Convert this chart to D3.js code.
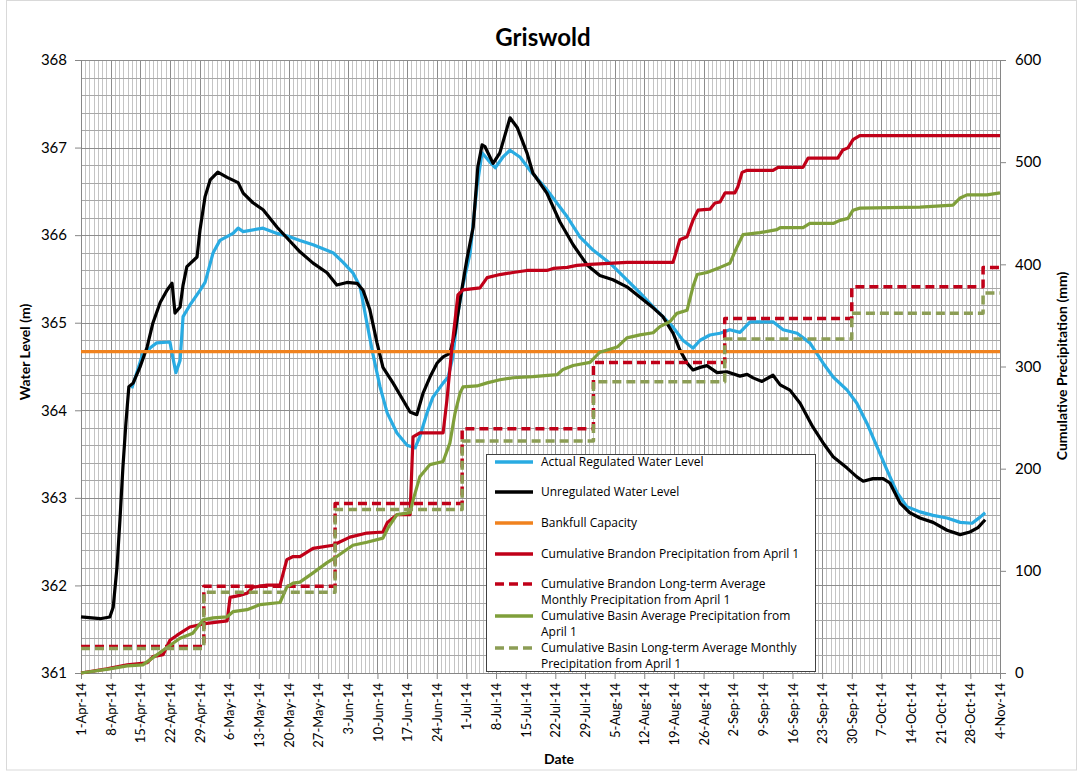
<!DOCTYPE html>
<html>
<head>
<meta charset="utf-8">
<title>Griswold</title>
<script src="https://cdnjs.cloudflare.com/ajax/libs/d3/7.8.5/d3.min.js"></script>
<style>
  body { margin: 0; background: #fff; }
  svg { font-family: Lato, "Open Sans", sans-serif; }
  .axis path, .axis line { stroke: #868686; }
  .axis text { fill: #000; font-size: 15px; font-family: Lato, "Open Sans", sans-serif; }
  .xaxis text { font-size: 13px; }
  .series { fill: none; stroke-linejoin: round; }
  .legend text { font-family: "Open Sans", Lato, sans-serif; font-size: 12px; }
</style>
</head>
<body>
<svg id="chart" width="1083" height="773"></svg>
<script>
// all series: [days since 1-Apr-14, value]
const regulated = [[12,364.25],[14.6,364.65],[16.3,364.71],[17.9,364.77],[21,364.78],[21.5,364.65],[22.4,364.43],[23.4,364.57],[24.1,365.07],[25.7,365.2],[28.1,365.37],[29.3,365.46],[31.2,365.8],[32.8,365.94],[35.9,366.02],[37.1,366.08],[38.3,366.04],[43,366.08],[46.3,366.02],[49.4,365.98],[51.7,365.94],[54.8,365.89],[59.5,365.8],[61.9,365.69],[64.2,365.57],[65.9,365.41],[67.5,365.0],[68.9,364.65],[70.6,364.27],[72.3,363.97],[74.6,363.74],[77,363.6],[78.9,363.57],[80,363.7],[81.7,363.97],[83.1,364.15],[85.5,364.31],[86.7,364.38],[87.8,364.61],[89,365.11],[90.2,365.43],[91.9,365.8],[93.5,366.55],[94.7,366.94],[96.1,366.86],[97.8,366.77],[99.6,366.89],[101.3,366.97],[103.7,366.89],[106,366.74],[110,366.52],[114.8,366.21],[117.8,365.98],[120.9,365.83],[124.9,365.68],[128.9,365.49],[132,365.34],[135.1,365.18],[137.4,365.07],[139.8,364.95],[142.1,364.8],[144.5,364.71],[146.2,364.8],[148.5,364.86],[150.9,364.88],[153.2,364.92],[155.6,364.89],[158,365.01],[163.4,365.01],[165.8,364.92],[169.1,364.88],[172.1,364.77],[175.2,364.54],[177.6,364.38],[180.9,364.23],[183.2,364.08],[185.6,363.85],[188,363.58],[190.3,363.32],[192.7,363.06],[195,362.9],[198.1,362.84],[201.2,362.8],[204.5,362.77],[207.6,362.72],[210.4,362.71],[212.3,362.78],[213.5,362.83]];

const unregulated = [[0,361.64],[4.5,361.62],[6.8,361.64],[7.6,361.75],[8.5,362.21],[9.2,362.75],[9.9,363.35],[10.6,363.85],[11.3,364.27],[12.3,364.31],[13.9,364.49],[15.6,364.72],[17,365.0],[18.7,365.23],[20.3,365.37],[21.5,365.45],[22.2,365.11],[23.4,365.18],[24.1,365.43],[25,365.64],[27.4,365.75],[28.1,366.06],[29.3,366.44],[30.5,366.63],[32.3,366.72],[34.5,366.66],[37.1,366.6],[38.3,366.48],[40.6,366.37],[43,366.29],[46.3,366.09],[48.6,365.97],[51.7,365.81],[54.8,365.68],[58.1,365.57],[60.4,365.43],[62.8,365.46],[65.2,365.45],[66.6,365.37],[68.2,365.15],[69.9,364.77],[71.3,364.49],[73.7,364.31],[76,364.12],[77.7,363.98],[79.3,363.95],[80.8,364.2],[82.4,364.38],[84.1,364.54],[85.5,364.61],[87.1,364.65],[88.3,364.88],[89.5,365.26],[91.1,365.72],[92.6,366.09],[93.7,366.78],[94.7,367.03],[95.4,367.01],[97.3,366.82],[98.9,366.94],[101.3,367.34],[103,367.23],[105.3,366.94],[106.7,366.71],[110,366.48],[113.1,366.15],[116.2,365.89],[119.5,365.66],[122.5,365.54],[125.6,365.49],[128.9,365.41],[132,365.29],[135.1,365.17],[137.4,365.07],[139.8,364.88],[141.4,364.69],[143.1,364.54],[144.5,364.46],[146.2,364.49],[147.8,364.51],[150.2,364.43],[152.5,364.44],[155.6,364.39],[157.3,364.41],[158.7,364.37],[160.8,364.33],[163.4,364.4],[165.1,364.29],[167.4,364.23],[169.8,364.08],[172.8,363.81],[175.2,363.63],[177.6,363.47],[180.9,363.34],[183.2,363.24],[184.7,363.19],[187,363.22],[189.4,363.22],[191,363.17],[193.4,362.94],[195.7,362.83],[198.1,362.77],[201.2,362.72],[204.5,362.63],[207.6,362.58],[209.9,362.61],[211.8,362.66],[213.5,362.75]];

const bankfull = [[0,364.67],[217,364.67]];

const brandonPrecip = [[0,0],[6.1,4],[10.9,8],[15.6,10],[17,16],[19.4,18],[21,32],[22.7,37],[25.7,45],[28.8,48],[34.5,51],[35.2,74],[37.5,76],[39.2,78],[40.6,84],[43.9,86],[47,86],[48.6,111],[50.1,114],[51.7,114],[54.8,122],[59.5,125],[63.5,133],[67.5,137],[71.3,138],[72.3,147],[74.6,155],[77.7,155],[78.4,231],[80,235],[85.5,235],[86.4,267],[87.6,319],[89,370],[90.2,375],[94.2,377],[95.9,387],[98.9,390],[102,392],[105.3,394],[110,394],[111.5,396],[114.8,397],[117.1,399],[120.2,400],[128.9,402],[139.8,402],[141.4,424],[143.1,427],[144.5,443],[145.7,453],[148.5,454],[149.7,460],[150.9,461],[152.1,470],[154.4,470],[155.1,476],[156.1,490],[157.3,492],[163.4,492],[164.6,495],[170.5,495],[171.7,504],[178.7,504],[179.9,512],[181.1,514],[182.3,522],[183.9,526],[217,526]];

const basinPrecip = [[0,0],[6.8,4],[10.9,7],[14.6,8],[17,15],[20.3,25],[23.4,34],[26.4,39],[28.8,52],[31.2,54],[34.5,55],[35.9,60],[39.2,62],[42.3,67],[47,69],[48.6,84],[50.1,88],[51.7,89],[54.8,98],[58.1,108],[60.4,114],[64.2,125],[67.5,128],[71.3,132],[72.5,142],[74.6,155],[77.7,157],[78.4,169],[80,192],[82.4,204],[85.5,207],[87.1,225],[88.3,254],[89.5,274],[90.2,280],[93.5,281],[95.9,284],[98.9,287],[102,289],[106.7,290],[112.4,292],[113.8,297],[116.2,301],[120.2,304],[121.8,311],[122.5,314],[126.6,319],[128.9,328],[132,331],[135.1,333],[136.7,339],[139.1,344],[140.7,352],[143.1,355],[144.5,378],[145.5,390],[147.8,392],[150.9,397],[153.2,401],[154.9,417],[156.3,429],[160.3,431],[164.3,434],[165.1,436],[170.5,436],[172.1,440],[177.6,440],[179.2,443],[181.1,445],[182.3,453],[183.9,455],[198.1,456],[205.9,458],[207.6,465],[209.2,468],[213.9,468],[217,470]];

// long-term monthly averages step up on the last day of each month
const stepDays = [0, 29, 60, 90, 121, 152, 182, 213, 217];
const brandonLongTerm = [26, 85, 166, 239, 304, 347, 378, 397, 397];
const basinLongTerm = [24, 79, 160, 227, 285, 327, 352, 372, 372];

const levelTicks = [361, 362, 363, 364, 365, 366, 367, 368];
const precipTicks = [0, 100, 200, 300, 400, 500, 600];

const legendItems = [
  { lines: ["Actual Regulated Water Level"], color: "#29abe2", dash: null },
  { lines: ["Unregulated Water Level"], color: "#000000", dash: null },
  { lines: ["Bankfull Capacity"], color: "#f0821e", dash: null },
  { lines: ["Cumulative Brandon Precipitation from April 1"], color: "#c00018", dash: null },
  { lines: ["Cumulative Brandon Long-term Average", "Monthly Precipitation from April 1"], color: "#c00018", dash: "9,5" },
  { lines: ["Cumulative Basin Average Precipitation from", "April 1"], color: "#7f9f3a", dash: null },
  { lines: ["Cumulative Basin Long-term Average Monthly", "Precipitation from April 1"], color: "#8c9d55", dash: "9,5" }
];

const svg = d3.select("#chart");
const W = 1083, H = 773;
const m = { left: 81, right: 1000, top: 60, bottom: 673 };

const start = new Date(Date.UTC(2014, 3, 1));
const end = new Date(Date.UTC(2014, 10, 4));
const toDate = d => new Date(start.getTime() + d * 864e5);

const x = d3.scaleUtc().domain([start, end]).range([m.left, m.right]);
const yL = d3.scaleLinear().domain([361, 368]).range([m.bottom, m.top]);
const yR = d3.scaleLinear().domain([0, 600]).range([m.bottom, m.top]);

// outer chart border
svg.append("rect").attr("x", 6.5).attr("y", 0.5).attr("width", W - 13).attr("height", H - 3.5)
  .attr("fill", "#fff").attr("stroke", "#d9d9d9");

// grid
const grid = svg.append("g");
const days = d3.utcDay.range(start, d3.utcDay.offset(end, 1));
grid.selectAll(".vminor").data(days).join("line")
  .attr("x1", d => Math.round(x(d)) + 0.5).attr("x2", d => Math.round(x(d)) + 0.5)
  .attr("y1", m.top).attr("y2", m.bottom)
  .attr("stroke", d => d3.utcDay.count(start, d) % 7 === 0 ? "#8c8c8c" : "#c4c4c4")
  .attr("stroke-width", 1);
grid.selectAll(".hminor").data(yL.ticks(35)).join("line")
  .attr("x1", m.left).attr("x2", m.right)
  .attr("y1", d => Math.round(yL(d)) + 0.5).attr("y2", d => Math.round(yL(d)) + 0.5)
  .attr("stroke", d => Math.abs(d - Math.round(d)) < 1e-6 ? "#8c8c8c" : "#a8a8a8");

// axes
const fmt = d3.utcFormat("%-d-%b-%y");
const weeks = d3.utcDay.range(start, d3.utcDay.offset(end, 1), 7);

svg.append("g").attr("class", "axis").attr("transform", `translate(${m.left},0)`)
  .call(d3.axisLeft(yL).tickValues(levelTicks).tickFormat(d3.format("d")).tickSize(6).tickPadding(8));
svg.append("g").attr("class", "axis").attr("transform", `translate(${m.right},0)`)
  .call(d3.axisRight(yR).tickValues(precipTicks).tickFormat(d3.format("d")).tickSize(6).tickPadding(9));
const xa = svg.append("g").attr("class", "axis xaxis").attr("transform", `translate(0,${m.bottom})`)
  .call(d3.axisBottom(x).tickValues(weeks).tickFormat(fmt).tickSize(6));
xa.selectAll("text")
  .attr("transform", "rotate(-90)")
  .attr("text-anchor", "end")
  .attr("x", -10).attr("y", 0).attr("dy", "0.35em");

// series
const lineL = d3.line().x(d => x(toDate(d[0]))).y(d => yL(d[1]));
const lineR = d3.line().x(d => x(toDate(d[0]))).y(d => yR(d[1]));
const stepR = d3.line().curve(d3.curveStepAfter).x(d => x(toDate(d[0]))).y(d => yR(d[1]));

const plot = svg.append("g");
plot.append("path").datum(regulated).attr("class", "series").attr("d", lineL)
  .attr("stroke", legendItems[0].color).attr("stroke-width", 3.2);
plot.append("path").datum(unregulated).attr("class", "series").attr("d", lineL)
  .attr("stroke", legendItems[1].color).attr("stroke-width", 3.2);
plot.append("path").datum(bankfull).attr("class", "series").attr("d", lineL)
  .attr("stroke", legendItems[2].color).attr("stroke-width", 3.2);
plot.append("path").datum(brandonPrecip).attr("class", "series").attr("d", lineR)
  .attr("stroke", legendItems[3].color).attr("stroke-width", 3.2);
plot.append("path").datum(stepDays.map((d, i) => [d, brandonLongTerm[i]])).attr("class", "series").attr("d", stepR)
  .attr("stroke", legendItems[4].color).attr("stroke-width", 3.5).attr("stroke-dasharray", "9,5");
plot.append("path").datum(basinPrecip).attr("class", "series").attr("d", lineR)
  .attr("stroke", legendItems[5].color).attr("stroke-width", 3.2);
plot.append("path").datum(stepDays.map((d, i) => [d, basinLongTerm[i]])).attr("class", "series").attr("d", stepR)
  .attr("stroke", legendItems[6].color).attr("stroke-width", 3.5).attr("stroke-dasharray", "9,5");

// legend
const lg = svg.append("g").attr("class", "legend").attr("transform", "translate(486,454)");
lg.append("rect").attr("x", 0.5).attr("y", 0.5).attr("width", 329).attr("height", 217)
  .attr("fill", "#fff").attr("stroke", "#404040");
const rowY = [8, 38, 69, 100, 130, 162, 194];
legendItems.forEach((it, i) => {
  const g = lg.append("g").attr("transform", `translate(0,${rowY[i]})`);
  g.append("line").attr("x1", 9).attr("x2", 47).attr("y1", 0).attr("y2", 0)
    .attr("stroke", it.color).attr("stroke-width", 3.5)
    .attr("stroke-dasharray", it.dash);
  g.append("text").attr("x", 55).attr("y", 0).attr("dy", "0.35em").attr("fill", "#000")
    .selectAll("tspan").data(it.lines).join("tspan")
    .attr("x", 55).attr("dy", (d, j) => j === 0 ? "0.35em" : 16).text(d => d);
});

// titles
svg.append("text").attr("x", 543).attr("y", 46).attr("text-anchor", "middle")
  .attr("font-size", 24).attr("font-weight", "bold").text("Griswold");
svg.append("text").attr("transform", "translate(30,352) rotate(-90)").attr("text-anchor", "middle")
  .attr("font-size", 14).attr("font-weight", "bold").text("Water Level (m)");
svg.append("text").attr("transform", "translate(1067,366) rotate(-90)").attr("text-anchor", "middle")
  .attr("font-size", 14).attr("font-weight", "bold").text("Cumulative Precipitation (mm)");
svg.append("text").attr("x", 559).attr("y", 764).attr("text-anchor", "middle")
  .attr("font-size", 14).attr("font-weight", "bold").text("Date");
</script>
</body>
</html>
